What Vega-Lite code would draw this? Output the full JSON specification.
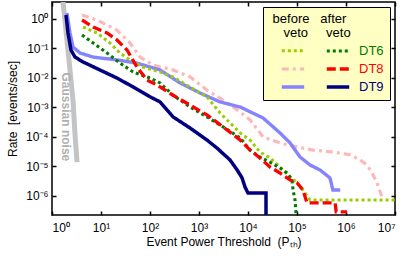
{
  "$schema": "https://vega.github.io/schema/vega-lite/v6.json",
  "width": 343,
  "height": 213,
  "autosize": {"type": "none"},
  "padding": {"left": 52, "top": 2, "right": 14, "bottom": 43},
  "background": "white",
  "config": {
    "view": {"stroke": "black", "strokeWidth": 1.5},
    "font": "Liberation Sans",
    "axis": {
      "gridColor": "#c8c8c8",
      "gridWidth": 1,
      "gridOpacity": 1,
      "domain": false,
      "tickColor": "black",
      "tickWidth": 1.5,
      "labelFont": "Liberation Sans",
      "labelFontSize": 12,
      "labelColor": "black",
      "titleFont": "Liberation Sans",
      "titleFontWeight": "normal",
      "titleFontSize": 12,
      "titleColor": "black"
    }
  },
  "datasets": {
    "gauss": [
      {"x": 1.68, "y": 3.8},
      {"x": 2.12, "y": 0.089},
      {"x": 2.68, "y": 0.00178},
      {"x": 2.95, "y": 0.000117},
      {"x": 3.24, "y": 0.000014}
    ],
    "label": [
      {"x": 1.886, "y": 0.00048, "t": "Gaussian noise"}
    ],
    "curves": [
      {"s": "DT8 before", "x": 4.1, "y": 1.37},
      {"s": "DT8 before", "x": 8.3, "y": 0.925},
      {"s": "DT8 before", "x": 21, "y": 0.42},
      {"s": "DT8 before", "x": 39, "y": 0.154},
      {"s": "DT8 before", "x": 63, "y": 0.051},
      {"s": "DT8 before", "x": 100, "y": 0.032},
      {"s": "DT8 before", "x": 115, "y": 0.0275},
      {"s": "DT8 before", "x": 295, "y": 0.0187},
      {"s": "DT8 before", "x": 660, "y": 0.0108},
      {"s": "DT8 before", "x": 1450, "y": 0.0039},
      {"s": "DT8 before", "x": 3100, "y": 0.00178},
      {"s": "DT8 before", "x": 6900, "y": 0.0007},
      {"s": "DT8 before", "x": 11000, "y": 0.00038},
      {"s": "DT8 before", "x": 20300, "y": 0.0001},
      {"s": "DT8 before", "x": 45000, "y": 0.000063},
      {"s": "DT8 before", "x": 100000, "y": 0.000046},
      {"s": "DT8 before", "x": 213000, "y": 0.000036},
      {"s": "DT8 before", "x": 540000, "y": 0.000031},
      {"s": "DT8 before", "x": 1200000, "y": 0.000025},
      {"s": "DT8 before", "x": 1940000, "y": 0.0000166},
      {"s": "DT8 before", "x": 2700000, "y": 0.0000112},
      {"s": "DT8 before", "x": 3400000, "y": 0.000006},
      {"s": "DT8 before", "x": 4300000, "y": 0.0000028},
      {"s": "DT8 before", "x": 5400000, "y": 0.00000093},

      {"s": "DT9 before", "x": 2.02, "y": 1.6},
      {"s": "DT9 before", "x": 2.33, "y": 0.335},
      {"s": "DT9 before", "x": 2.68, "y": 0.112},
      {"s": "DT9 before", "x": 3.73, "y": 0.0705},
      {"s": "DT9 before", "x": 6.9, "y": 0.051},
      {"s": "DT9 before", "x": 21.2, "y": 0.041},
      {"s": "DT9 before", "x": 54, "y": 0.032},
      {"s": "DT9 before", "x": 160, "y": 0.0187},
      {"s": "DT9 before", "x": 410, "y": 0.0068},
      {"s": "DT9 before", "x": 1050, "y": 0.0031},
      {"s": "DT9 before", "x": 2690, "y": 0.00154},
      {"s": "DT9 before", "x": 6900, "y": 0.00104},
      {"s": "DT9 before", "x": 20300, "y": 0.00044},
      {"s": "DT9 before", "x": 45000, "y": 0.000137},
      {"s": "DT9 before", "x": 72000, "y": 0.000063},
      {"s": "DT9 before", "x": 115000, "y": 0.000021},
      {"s": "DT9 before", "x": 185000, "y": 0.0000112},
      {"s": "DT9 before", "x": 295000, "y": 0.0000076},
      {"s": "DT9 before", "x": 470000, "y": 0.0000041},
      {"s": "DT9 before", "x": 540000, "y": 0.0000016},
      {"s": "DT9 before", "x": 760000, "y": 0.0000016},

      {"s": "DT6 before", "x": 4.3, "y": 0.535},
      {"s": "DT6 before", "x": 8.3, "y": 0.335},
      {"s": "DT6 before", "x": 15.2, "y": 0.154},
      {"s": "DT6 before", "x": 24.4, "y": 0.07},
      {"s": "DT6 before", "x": 39, "y": 0.041},
      {"s": "DT6 before", "x": 72, "y": 0.0236},
      {"s": "DT6 before", "x": 160, "y": 0.016},
      {"s": "DT6 before", "x": 295, "y": 0.0108},
      {"s": "DT6 before", "x": 660, "y": 0.0049},
      {"s": "DT6 before", "x": 1450, "y": 0.0023},
      {"s": "DT6 before", "x": 2690, "y": 0.00065},
      {"s": "DT6 before", "x": 4300, "y": 0.0003},
      {"s": "DT6 before", "x": 6900, "y": 0.000137},
      {"s": "DT6 before", "x": 11000, "y": 0.000079},
      {"s": "DT6 before", "x": 17500, "y": 0.000031},
      {"s": "DT6 before", "x": 28000, "y": 0.0000195},
      {"s": "DT6 before", "x": 45000, "y": 0.0000096},
      {"s": "DT6 before", "x": 72000, "y": 0.0000044},
      {"s": "DT6 before", "x": 100000, "y": 0.0000028},
      {"s": "DT6 before", "x": 132000, "y": 0.0000016},
      {"s": "DT6 before", "x": 185000, "y": 0.00000073},
      {"s": "DT6 before", "x": 10000000, "y": 0.00000073},

      {"s": "DT6 after", "x": 4.1, "y": 0.287},
      {"s": "DT6 after", "x": 6.9, "y": 0.154},
      {"s": "DT6 after", "x": 13.3, "y": 0.07},
      {"s": "DT6 after", "x": 24.4, "y": 0.032},
      {"s": "DT6 after", "x": 45, "y": 0.016},
      {"s": "DT6 after", "x": 100, "y": 0.01},
      {"s": "DT6 after", "x": 160, "y": 0.0068},
      {"s": "DT6 after", "x": 295, "y": 0.0026},
      {"s": "DT6 after", "x": 660, "y": 0.00104},
      {"s": "DT6 after", "x": 1450, "y": 0.00048},
      {"s": "DT6 after", "x": 3100, "y": 0.00022},
      {"s": "DT6 after", "x": 6900, "y": 0.000093},
      {"s": "DT6 after", "x": 11000, "y": 0.000036},
      {"s": "DT6 after", "x": 17500, "y": 0.000021},
      {"s": "DT6 after", "x": 28000, "y": 0.000014},
      {"s": "DT6 after", "x": 45000, "y": 0.0000089},
      {"s": "DT6 after", "x": 63000, "y": 0.000006},
      {"s": "DT6 after", "x": 79000, "y": 0.0000035},
      {"s": "DT6 after", "x": 83000, "y": 0.0000016},
      {"s": "DT6 after", "x": 91000, "y": 0.00000073},
      {"s": "DT6 after", "x": 100000, "y": 0.0000001},

      {"s": "DT8 after", "x": 4.1, "y": 0.925},
      {"s": "DT8 after", "x": 6.9, "y": 0.535},
      {"s": "DT8 after", "x": 13.3, "y": 0.335},
      {"s": "DT8 after", "x": 21.2, "y": 0.194},
      {"s": "DT8 after", "x": 34, "y": 0.089},
      {"s": "DT8 after", "x": 54, "y": 0.0236},
      {"s": "DT8 after", "x": 87, "y": 0.0085},
      {"s": "DT8 after", "x": 139, "y": 0.0058},
      {"s": "DT8 after", "x": 295, "y": 0.0026},
      {"s": "DT8 after", "x": 660, "y": 0.0012},
      {"s": "DT8 after", "x": 1450, "y": 0.00056},
      {"s": "DT8 after", "x": 3100, "y": 0.00022},
      {"s": "DT8 after", "x": 6900, "y": 0.000079},
      {"s": "DT8 after", "x": 11000, "y": 0.000036},
      {"s": "DT8 after", "x": 17500, "y": 0.0000195},
      {"s": "DT8 after", "x": 28000, "y": 0.0000096},
      {"s": "DT8 after", "x": 45000, "y": 0.000006},
      {"s": "DT8 after", "x": 72000, "y": 0.0000035},
      {"s": "DT8 after", "x": 100000, "y": 0.0000028},
      {"s": "DT8 after", "x": 132000, "y": 0.0000016},
      {"s": "DT8 after", "x": 160000, "y": 0.00000058},
      {"s": "DT8 after", "x": 600000, "y": 0.00000058},
      {"s": "DT8 after", "x": 630000, "y": 0.00000029},
      {"s": "DT8 after", "x": 1050000, "y": 0.00000029},

      {"s": "DT9 after", "x": 1.93, "y": 1.37},
      {"s": "DT9 after", "x": 2.12, "y": 0.335},
      {"s": "DT9 after", "x": 2.44, "y": 0.089},
      {"s": "DT9 after", "x": 2.95, "y": 0.051},
      {"s": "DT9 after", "x": 4.3, "y": 0.035},
      {"s": "DT9 after", "x": 9.5, "y": 0.0187},
      {"s": "DT9 after", "x": 21, "y": 0.01},
      {"s": "DT9 after", "x": 45, "y": 0.005},
      {"s": "DT9 after", "x": 100, "y": 0.0023},
      {"s": "DT9 after", "x": 160, "y": 0.00155},
      {"s": "DT9 after", "x": 295, "y": 0.00048},
      {"s": "DT9 after", "x": 660, "y": 0.0002},
      {"s": "DT9 after", "x": 1450, "y": 0.000079},
      {"s": "DT9 after", "x": 2330, "y": 0.000042},
      {"s": "DT9 after", "x": 4300, "y": 0.0000166},
      {"s": "DT9 after", "x": 6000, "y": 0.0000076},
      {"s": "DT9 after", "x": 7560, "y": 0.0000041},
      {"s": "DT9 after", "x": 8700, "y": 0.000002},
      {"s": "DT9 after", "x": 10000, "y": 0.00000126},
      {"s": "DT9 after", "x": 23300, "y": 0.00000126},
      {"s": "DT9 after", "x": 23300, "y": 0.0000001}
    ]
  },
  "layer": [
    {
      "data": {"name": "gauss"},
      "mark": {"type": "line", "color": "#c4c4c4", "strokeWidth": 5, "clip": true},
      "encoding": {
        "x": {"field": "x", "type": "quantitative", "scale": {"type": "log", "domain": [1, 10000000], "nice": false},
              "axis": {"orient": "top", "values": [1, 10, 100, 1000, 10000, 100000, 1000000, 10000000], "labels": false, "grid": false, "title": null, "tickSize": -4}},
        "y": {"field": "y", "type": "quantitative", "scale": {"type": "log", "domain": [2.26e-7, 3.77], "nice": false},
              "axis": {"orient": "right", "values": [1, 0.1, 0.01, 0.001, 0.0001, 0.00001, 0.000001], "labels": false, "grid": false, "title": null, "tickSize": -4}}
      }
    },
    {
      "data": {"name": "label"},
      "mark": {"type": "text", "angle": 90, "color": "#b0b0b0", "fontWeight": "bold", "fontSize": 12, "font": "Liberation Sans", "align": "center", "baseline": "middle"},
      "encoding": {
        "x": {"field": "x", "type": "quantitative", "axis": null},
        "y": {"field": "y", "type": "quantitative", "axis": null},
        "text": {"field": "t"}
      }
    },
    {
      "data": {"name": "curves"},
      "mark": {"type": "line", "clip": true, "strokeCap": "butt"},
      "encoding": {
        "x": {"field": "x", "type": "quantitative",
              "axis": {"orient": "bottom", "values": [1, 10, 100, 1000, 10000, 100000, 1000000, 10000000], "tickSize": -4, "labelPadding": 11,
                       "labelExpr": "'10' + ['⁰','¹','²','³','⁴','⁵','⁶','⁷'][round(log(datum.value)/LN10)]",
                       "title": "Event Power Threshold\u00a0\u00a0(Pₜₕ)", "titlePadding": 3}},
        "y": {"field": "y", "type": "quantitative",
              "axis": {"orient": "left", "values": [1, 0.1, 0.01, 0.001, 0.0001, 0.00001, 0.000001], "tickSize": -4, "labelPadding": 8,
                       "labelExpr": "'10' + (round(log(datum.value)/LN10) < 0 ? '⁻' : '') + ['⁰','¹','²','³','⁴','⁵','⁶','⁷'][abs(round(log(datum.value)/LN10))]",
                       "title": "Rate\u00a0\u00a0[events/sec]", "titlePadding": 6}},
        "color": {"field": "s", "type": "nominal",
                  "scale": {"domain": ["DT6 before", "DT6 after", "DT8 before", "DT8 after", "DT9 before", "DT9 after"],
                            "range": ["#9acd00", "#007a00", "#ffb8b8", "#ff0000", "#8484ff", "#000080"]},
                  "legend": {
                    "orient": "top-right", "offset": 5, "direction": "horizontal",
                    "title": ["\u200b\u00a0before\u00a0\u00a0\u00a0after", "\u200b\u00a0\u00a0\u00a0\u00a0veto\u00a0\u00a0\u00a0\u00a0\u00a0veto"],
                    "titleFontWeight": "normal", "titleFontSize": 13, "titleColor": "black", "titleFont": "Liberation Sans",
                    "titlePadding": 1, "titleLineHeight": 14,
                    "columns": 2, "columnPadding": -4, "rowPadding": 1,
                    "symbolType": "M-1.4,0H1.4", "symbolSize": 256, "symbolStrokeWidth": 3, "symbolOffset": 14,
                    "labelExpr": "indexof(datum.value, 'after') >= 0 ? slice(datum.value, 0, 3) : ''",
                    "labelFontSize": 13, "labelOffset": 11, "labelFont": "Liberation Sans",
                    "fillColor": "#ffffc4", "strokeColor": "black", "padding": 6,
                    "encode": {"labels": {"update": {"fill": {"scale": "color", "field": "value"}}}}
                  }},
        "strokeDash": {"field": "s", "type": "nominal",
                  "scale": {"domain": ["DT6 before", "DT6 after", "DT8 before", "DT8 after", "DT9 before", "DT9 after"],
                            "range": [[3, 3], [3, 3], [7, 4, 3, 4], [9, 4], [1, 0], [1, 0]]}},
        "strokeWidth": {"field": "s", "type": "nominal", "legend": null,
                  "scale": {"domain": ["DT6 before", "DT6 after", "DT8 before", "DT8 after", "DT9 before", "DT9 after"],
                            "range": [3, 3.5, 3, 4, 2.5, 3.5]}}
      }
    }
  ],
  "resolve": {"axis": {"x": "independent", "y": "independent"}}
}
